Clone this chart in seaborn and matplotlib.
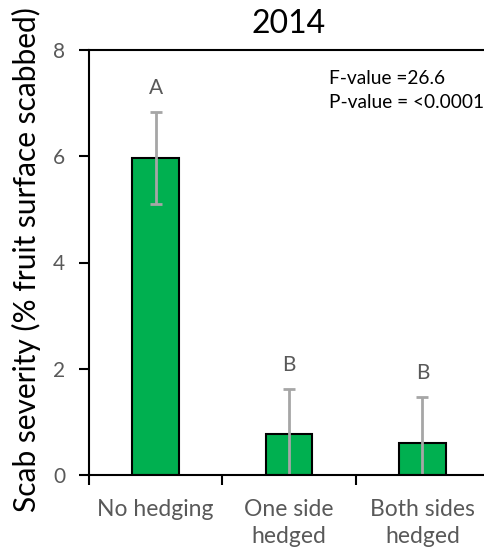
import matplotlib
matplotlib.use("Agg")
import matplotlib.pyplot as plt
import matplotlib.transforms as mtransforms
import seaborn as sns
import pandas as pd
import numpy as np

categories = ["No hedging", "One side\nhedged", "Both sides\nhedged"]
means = [5.97, 0.77, 0.61]
errors = [0.86, 0.85, 0.86]
letters = ["A", "B", "B"]
title = "2014"
ylabel = "Scab severity (% fruit surface scabbed)"
stats_lines = ["F-value =26.6", "P-value = <0.0001"]
yticks = [0, 2, 4, 6, 8]

sns.set_style("white")
plt.rcParams['font.family'] = ['Lato', 'DejaVu Sans']

W, H = 484, 547
fig = plt.figure(figsize=(W / 100, H / 100), dpi=100)
ax = fig.add_axes([89 / W, (H - 475) / H, 400 / W, 425 / H])

df = pd.DataFrame({"cat": categories, "val": means})
sns.barplot(data=df, x="cat", y="val", ax=ax, color="#00B050", saturation=1,
            width=0.35, edgecolor="black", linewidth=1.5, errorbar=None)

eb = ax.errorbar(np.arange(len(means)), means, yerr=errors, fmt="none",
                 ecolor="#A6A6A6", elinewidth=2, capsize=4.3, capthick=2, zorder=5)
for cl in eb[1]:
    cl.set_color("#595959")

for i, (m, e, l) in enumerate(zip(means, errors, letters)):
    ax.text(i, m + e + 0.27, l, ha="center", va="bottom", fontsize=15, color="#595959")

ax.set_xlim(-0.5, 2.5)
ax.set_ylim(0, 8)
ax.set_yticks(yticks)
ax.set_yticklabels([str(t) for t in yticks])
ax.set_xlabel("")
ax.set_ylabel(ylabel, fontsize=21.5, color="black")
ax.yaxis.set_label_coords(-0.12, 0.506)
ax.set_title(title, fontsize=23, color="black", pad=12)

ax.set_xticks([-0.5, 0.5, 1.5, 2.5], minor=True)
ax.tick_params(axis="x", which="major", length=0, labelsize=16.5, labelcolor="#595959", pad=17.5)
for lab in ax.get_xticklabels():
    lab.set_linespacing(1.35)
ax.tick_params(axis="x", which="minor", length=7, width=1.5, direction="out", color="black", bottom=True)
ax.tick_params(axis="y", length=7, width=1.5, direction="out", color="black", labelsize=15,
               labelcolor="#595959", pad=10, left=True)

for s in ["left", "bottom", "top"]:
    ax.spines[s].set_color("black")
    ax.spines[s].set_linewidth(1.5)
ax.spines["right"].set_visible(False)
ax.spines["left"].set_zorder(6)
ax.spines["bottom"].set_zorder(6)

trans = mtransforms.blended_transform_factory(ax.transAxes, ax.transData)
for j, t in enumerate(stats_lines):
    ax.text(0.6, 7.36 - 0.45 * j, t, transform=trans,
            ha="left", va="baseline", fontsize=13.8, color="black")

fig.savefig("out.png", dpi=100)
